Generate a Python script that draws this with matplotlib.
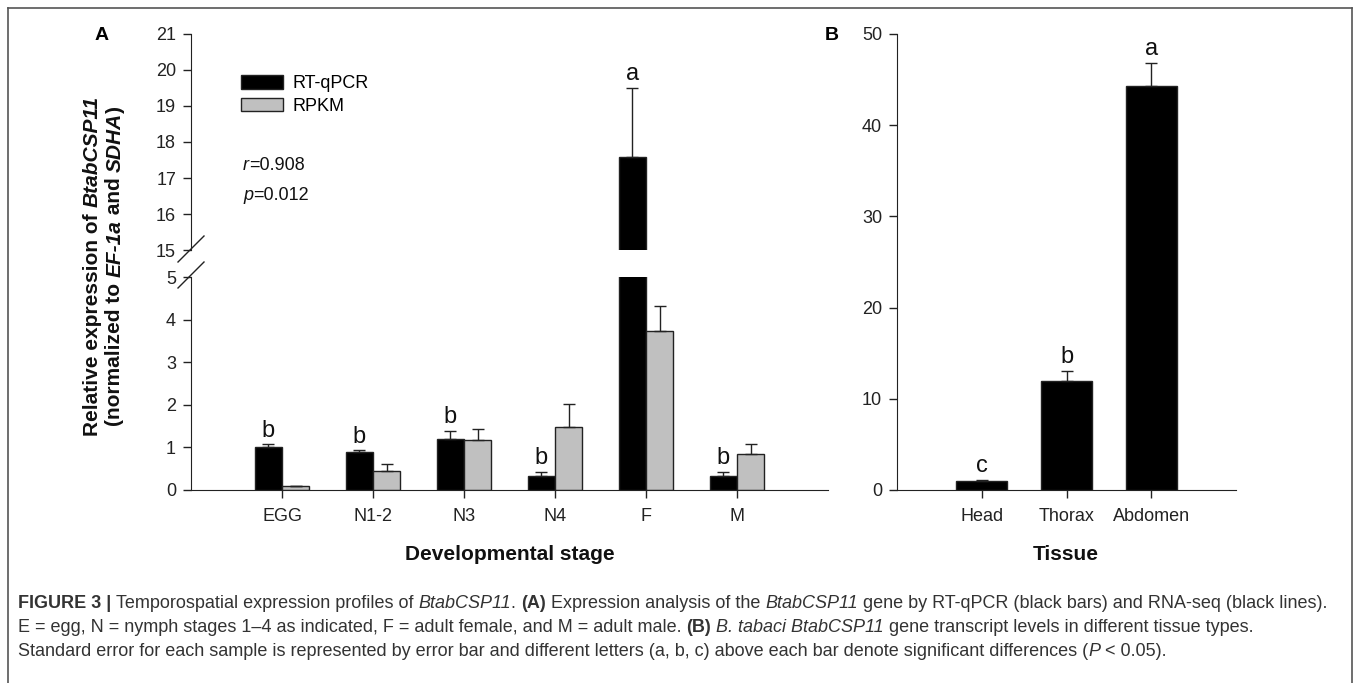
import numpy as np
import matplotlib
matplotlib.use("Agg")
import matplotlib.pyplot as plt
from matplotlib.patches import Patch
from matplotlib.lines import Line2D

plt.rcParams['font.family'] = ['Liberation Sans', 'DejaVu Sans']

# panel A data (developmental stages)
stages = ['EGG', 'N1-2', 'N3', 'N4', 'F', 'M']
qpcr = [1.0, 0.9, 1.2, 0.32, 17.58, 0.33]
qpcr_se = [0.07, 0.03, 0.18, 0.10, 1.92, 0.09]
rpkm = [0.1, 0.45, 1.17, 1.49, 3.74, 0.84]
rpkm_se = [0.0, 0.15, 0.27, 0.53, 0.59, 0.23]
letters_a = ['b', 'b', 'b', 'b', 'a', 'b']

# panel B data (tissues)
tissues = ['Head', 'Thorax', 'Abdomen']
tissue_expr = [1.0, 12.0, 44.3]
tissue_se = [0.1, 1.1, 2.5]
letters_b = ['c', 'b', 'a']

W, H = 1357, 683
fig = plt.figure(figsize=(W / 100, H / 100), dpi=100)

def fx(px):
    return px / W

def fy(py):
    return 1 - py / H

def rect(x0, y0, x1, y1):
    # pixel box (top-left origin) -> figure fraction
    return [fx(x0), fy(y1), fx(x1) - fx(x0), fy(y0) - fy(y1)]

ax_hi = fig.add_axes(rect(191, 34, 828, 250))
ax_lo = fig.add_axes(rect(191, 277, 828, 490))
ax_b = fig.add_axes(rect(897, 34, 1236, 490))

spine_col = '#222222'
grey = '#c0c0c0'
tick_kw = dict(direction='out', length=5.8, width=1, labelsize=13, pad=5, colors='#222222')

for ax in (ax_hi, ax_lo, ax_b):
    for s in ('top', 'right'):
        ax.spines[s].set_visible(False)
    for s in ('left', 'bottom'):
        ax.spines[s].set_color(spine_col)
    ax.tick_params(**tick_kw)
    ax.set_facecolor('none')

ax_hi.spines['bottom'].set_visible(False)
ax_hi.tick_params(axis='x', bottom=False, labelbottom=False)

x = np.arange(len(stages))
bw = 0.3
err_kw = dict(fmt='none', ecolor='#222222', elinewidth=1, capsize=4.5, capthick=1)
for ax in (ax_hi, ax_lo):
    ax.bar(x - bw / 2, qpcr, bw, color='black', edgecolor='#222222', linewidth=1)
    ax.bar(x + bw / 2, rpkm, bw, color=grey, edgecolor='#222222', linewidth=1)
    ax.errorbar(x - bw / 2, qpcr, yerr=[[0] * len(x), qpcr_se], **err_kw)
    ax.errorbar(x + bw / 2, rpkm, yerr=[[0] * len(x), rpkm_se], **err_kw)
    ax.set_xlim(-1, 6)

ax_hi.set_ylim(15, 21)
ax_hi.set_yticks(range(15, 22))
ax_lo.set_ylim(0, 5)
ax_lo.set_yticks(range(0, 6))
ax_lo.set_xticks(x)
ax_lo.set_xticklabels(stages)
ax_lo.tick_params(axis='x', pad=7)

for i, l in enumerate(letters_a):
    top = qpcr[i] + qpcr_se[i]
    ax = ax_hi if top > 5 else ax_lo
    ax.annotate(l, (x[i] - bw / 2, top), xytext=(0, 2), textcoords='offset points',
                ha='center', va='bottom', fontsize=17, color='#111111')

# axis break marks
for cy in (249, 275):
    fig.add_artist(Line2D([fx(178), fx(204)], [fy(cy + 13), fy(cy - 13)],
                          color=spine_col, lw=1))

# legend
handles = [Patch(facecolor='black', edgecolor='#222222'),
           Patch(facecolor=grey, edgecolor='#222222')]
fig.legend(handles, ['RT-qPCR', 'RPKM'], loc='upper left',
           bbox_to_anchor=(fx(241), fy(75)), bbox_transform=fig.transFigure,
           frameon=False, fontsize=13, handlelength=2.3, handleheight=0.8,
           handletextpad=0.55, labelspacing=0.3, borderpad=0, borderaxespad=0)

renderer = fig.canvas.get_renderer()

def put_runs(x0, y0, parts, size, family=None, color='#111111', rotation=0):
    # draw text pieces one after another, pixel coords with top-left origin
    arts = []
    cur = x0 if rotation == 0 else y0
    for text, style in parts:
        kw = dict(fontsize=size, color=color,
                  weight='bold' if 'b' in style else 'normal',
                  style='italic' if 'i' in style else 'normal')
        if family:
            kw['family'] = family
        if rotation == 0:
            t = fig.text(fx(cur), fy(y0), text, ha='left', va='center', **kw)
            bb = t.get_window_extent(renderer=renderer)
            cur = bb.x1
        else:
            t = fig.text(fx(x0), fy(cur), text, ha='left', va='center', rotation=90,
                         rotation_mode='anchor', **kw)
            bb = t.get_window_extent(renderer=renderer)
            cur = H - bb.y1
        arts.append(t)
    return arts, cur

def put_vertical_centered(xc, yc, parts, size):
    arts, end = put_runs(xc, 600, parts, size, rotation=90)
    total = 600 - end
    for a in arts:
        a.remove()
    put_runs(xc, yc + total / 2, parts, size, rotation=90)

put_runs(243, 165, [('r', 'i'), ('=0.908', '')], 13)
put_runs(243, 195, [('p', 'i'), ('=0.012', '')], 13)

put_vertical_centered(92, 266, [('Relative expression of ', 'b'), ('BtabCSP11', 'bi')], 15)
put_vertical_centered(115, 266, [('(normalized to ', 'b'), ('EF-1a', 'bi'), (' and ', 'b'),
                                 ('SDHA', 'bi'), (')', 'b')], 15)

fig.text(fx(510), fy(554), 'Developmental stage', ha='center', va='center',
         fontsize=15, weight='bold', color='#111111')
fig.text(fx(102), fy(36), 'A', ha='center', va='center', fontsize=14, weight='bold')
fig.text(fx(832), fy(36), 'B', ha='center', va='center', fontsize=14, weight='bold')

# panel B
xb = np.arange(len(tissues))
ax_b.bar(xb, tissue_expr, 0.6, color='black', edgecolor='#222222', linewidth=1)
ax_b.errorbar(xb, tissue_expr, yerr=[[0] * len(xb), tissue_se], **err_kw)
ax_b.set_xlim(-1, 3)
ax_b.set_ylim(0, 50)
ax_b.set_yticks(range(0, 51, 10))
ax_b.set_xticks(xb)
ax_b.set_xticklabels(tissues)
ax_b.tick_params(axis='x', pad=7)
for i, l in enumerate(letters_b):
    ax_b.annotate(l, (xb[i], tissue_expr[i] + tissue_se[i]), xytext=(0, 2),
                  textcoords='offset points', ha='center', va='bottom', fontsize=17,
                  color='#111111')
fig.text(fx(1066), fy(554), 'Tissue', ha='center', va='center',
         fontsize=15, weight='bold', color='#111111')

# frame around the figure
for xs, ys in (([8, 8], [683, 8]), ([8, 1352], [8, 8]), ([1352, 1352], [8, 683])):
    fig.add_artist(Line2D([fx(v) for v in xs], [fy(v) for v in ys], color='#555555', lw=1.2))

# caption
cap_font = ['Liberation Sans']
cap_col = '#333333'
cap_lines = [
    [('FIGURE 3 | ', 'b'), ('Temporospatial expression profiles of ', ''), ('BtabCSP11', 'i'),
     ('. ', ''), ('(A)', 'b'), (' Expression analysis of the ', ''), ('BtabCSP11', 'i'),
     (' gene by RT-qPCR (black bars) and RNA-seq (black lines).', '')],
    [('E = egg, N = nymph stages 1\u20134 as indicated, F = adult female, and M = adult male. ', ''),
     ('(B)', 'b'), (' ', ''), ('B. tabaci BtabCSP11', 'i'),
     (' gene transcript levels in different tissue types.', '')],
    [('Standard error for each sample is represented by error bar and different letters '
      '(a, b, c) above each bar denote significant differences (', ''), ('P', 'i'),
     (' < 0.05).', '')],
]
for k, parts in enumerate(cap_lines):
    put_runs(18, 604 + 23.5 * k, parts, 12.95, family=cap_font, color=cap_col)

fig.savefig('out.png', dpi=100)
